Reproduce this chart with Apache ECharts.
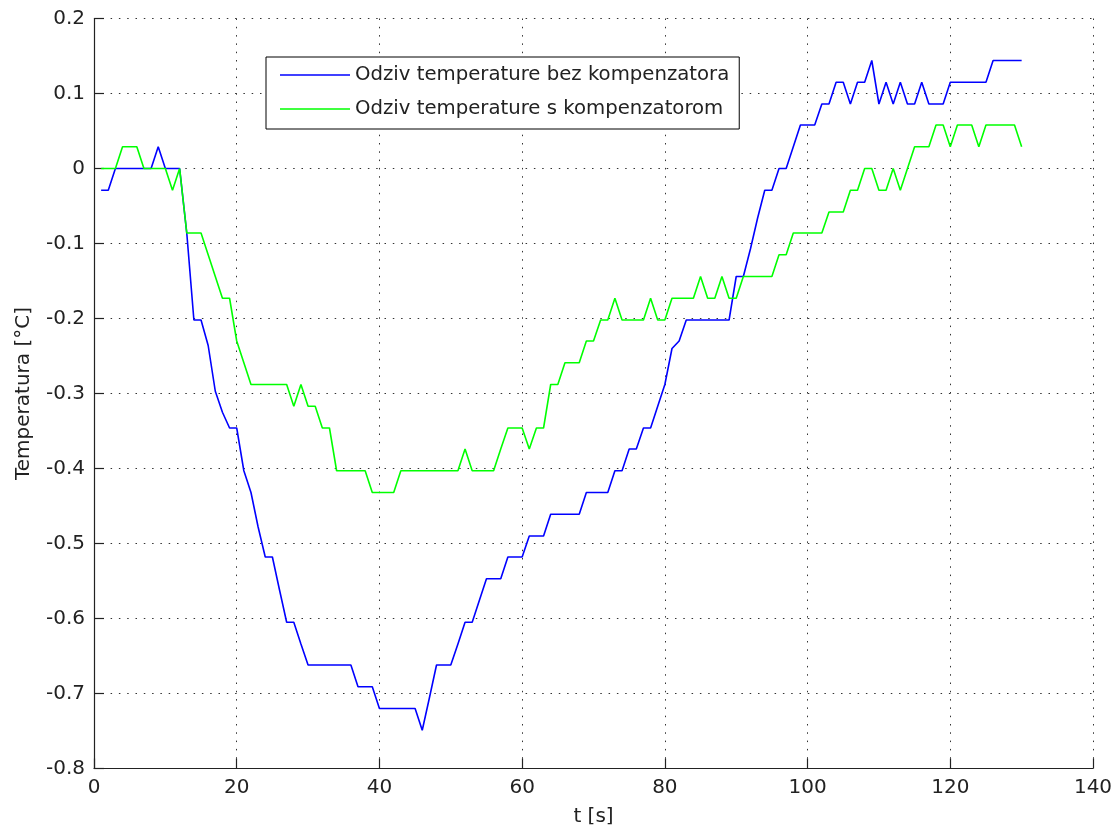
<!DOCTYPE html>
<html>
<head>
<meta charset="utf-8">
<script src="https://cdn.jsdelivr.net/npm/echarts@6/dist/echarts.min.js"></script>
<style>
html,body{margin:0;padding:0;background:#fff;}
#chart{width:1120px;height:829px;}
</style>
</head>
<body>
<div id="chart"></div>
<script>
// sampling time t = 1..130 s
const times = Array.from({length: 130}, (_, i) => i + 1);

const seriesNames = ['Odziv temperature bez kompenzatora', 'Odziv temperature s kompenzatorom'];

// Odziv temperature bez kompenzatora
const tempNoComp = [
  -0.029, -0.029, 0, 0, 0, 0, 0, 0, 0.029, 0,
  0, 0, -0.086, -0.202, -0.202, -0.236, -0.297, -0.325, -0.346, -0.346,
  -0.403, -0.432, -0.478, -0.518, -0.518, -0.562, -0.605, -0.605, -0.634, -0.662,
  -0.662, -0.662, -0.662, -0.662, -0.662, -0.662, -0.691, -0.691, -0.691, -0.720,
  -0.720, -0.720, -0.720, -0.720, -0.720, -0.749, -0.706, -0.662, -0.662, -0.662,
  -0.634, -0.605, -0.605, -0.576, -0.547, -0.547, -0.547, -0.518, -0.518, -0.518,
  -0.490, -0.490, -0.490, -0.461, -0.461, -0.461, -0.461, -0.461, -0.432, -0.432,
  -0.432, -0.432, -0.403, -0.403, -0.374, -0.374, -0.346, -0.346, -0.317, -0.288,
  -0.240, -0.230, -0.202, -0.202, -0.202, -0.202, -0.202, -0.202, -0.202, -0.144,
  -0.144, -0.107, -0.066, -0.029, -0.029, 0, 0, 0.029, 0.058, 0.058,
  0.058, 0.086, 0.086, 0.115, 0.115, 0.086, 0.115, 0.115, 0.144, 0.086,
  0.115, 0.086, 0.115, 0.086, 0.086, 0.115, 0.086, 0.086, 0.086, 0.115,
  0.115, 0.115, 0.115, 0.115, 0.115, 0.144, 0.144, 0.144, 0.144, 0.144
];

// Odziv temperature s kompenzatorom
const tempComp = [
  0, 0, 0, 0.029, 0.029, 0.029, 0, 0, 0, 0,
  -0.029, 0, -0.086, -0.086, -0.086, -0.115, -0.144, -0.173, -0.173, -0.230,
  -0.259, -0.288, -0.288, -0.288, -0.288, -0.288, -0.288, -0.317, -0.288, -0.317,
  -0.317, -0.346, -0.346, -0.403, -0.403, -0.403, -0.403, -0.403, -0.432, -0.432,
  -0.432, -0.432, -0.403, -0.403, -0.403, -0.403, -0.403, -0.403, -0.403, -0.403,
  -0.403, -0.374, -0.403, -0.403, -0.403, -0.403, -0.374, -0.346, -0.346, -0.346,
  -0.374, -0.346, -0.346, -0.288, -0.288, -0.259, -0.259, -0.259, -0.230, -0.230,
  -0.202, -0.202, -0.173, -0.202, -0.202, -0.202, -0.202, -0.173, -0.202, -0.202,
  -0.173, -0.173, -0.173, -0.173, -0.144, -0.173, -0.173, -0.144, -0.173, -0.173,
  -0.144, -0.144, -0.144, -0.144, -0.144, -0.115, -0.115, -0.086, -0.086, -0.086,
  -0.086, -0.086, -0.058, -0.058, -0.058, -0.029, -0.029, 0, 0, -0.029,
  -0.029, 0, -0.029, 0, 0.029, 0.029, 0.029, 0.058, 0.058, 0.029,
  0.058, 0.058, 0.058, 0.029, 0.058, 0.058, 0.058, 0.058, 0.058, 0.029
];

const xTicks = { min: 0, max: 140, interval: 20 };
const yTicks = { min: -0.8, max: 0.2, interval: 0.1 };

const FONT = 'DejaVu Sans';
const TXT = '#222';

const chart = echarts.init(document.getElementById('chart'), null, {renderer: 'canvas'});

function pairs(vals) { return vals.map((v, i) => [times[i], v]); }

const gridLine = { show: true, lineStyle: { color: '#333', width: 1, type: [1.5, 6.8] } };

chart.setOption({
  animation: false,
  backgroundColor: '#fff',
  grid: { left: 94, right: 27, top: 18.5, bottom: 60.5, containLabel: false, outerBoundsMode: 'none' },
  legend: {
    orient: 'vertical',
    left: 266, top: 57,
    data: seriesNames,
    icon: 'rect',
    backgroundColor: '#fff',
    borderColor: '#000',
    borderWidth: 1,
    padding: [6, 10, 8, 14],
    itemWidth: 70,
    itemHeight: 1.6,
    itemGap: 10,
    textStyle: { fontFamily: FONT, fontSize: 19.7, color: TXT, lineHeight: 24 }
  },
  xAxis: {
    type: 'value',
    min: xTicks.min, max: xTicks.max, interval: xTicks.interval,
    name: 't [s]', nameLocation: 'middle', nameGap: 38,
    nameTextStyle: { fontFamily: FONT, fontSize: 20, color: TXT },
    axisLine: { show: true, onZero: false, lineStyle: { color: '#222', width: 1.2 } },
    axisTick: { show: true, inside: true, length: 10, lineStyle: { color: '#222', width: 1.2 } },
    axisLabel: { margin: 9, fontFamily: FONT, fontSize: 20, color: TXT },
    splitLine: gridLine
  },
  yAxis: {
    type: 'value',
    min: yTicks.min, max: yTicks.max, interval: yTicks.interval,
    name: 'Temperatura [°C]', nameLocation: 'middle', nameGap: 60, nameRotate: 90,
    nameTextStyle: { fontFamily: FONT, fontSize: 20, color: TXT },
    axisLine: { show: true, onZero: false, lineStyle: { color: '#222', width: 1.2 } },
    axisTick: { show: true, inside: true, length: 10, lineStyle: { color: '#222', width: 1.2 } },
    axisLabel: {
      margin: 9, fontFamily: FONT, fontSize: 20, color: TXT,
      formatter: v => String(Math.round(v * 10) / 10)
    },
    splitLine: gridLine
  },
  series: [
    {
      name: seriesNames[0], type: 'line', data: pairs(tempNoComp),
      symbol: 'none', lineStyle: { color: '#0000ff', width: 1.6 }, itemStyle: { color: '#0000ff' }
    },
    {
      name: seriesNames[1], type: 'line', data: pairs(tempComp),
      symbol: 'none', lineStyle: { color: '#00ff00', width: 1.6 }, itemStyle: { color: '#00ff00' }
    }
  ]
});
</script>
</body>
</html>
